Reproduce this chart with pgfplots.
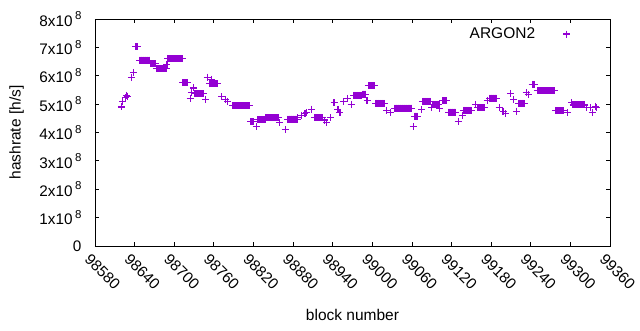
\documentclass[border=0pt]{standalone}
\usepackage{pgfplots}
\pgfplotsset{compat=1.18}
\usepackage{fontspec}
\setmainfont{Liberation Sans}
\definecolor{argon}{RGB}{148,0,211}
\newcommand{\sci}[1]{#1x10\kern2.5pt\raisebox{0.42em}{\fontsize{11.5}{11.5}\selectfont 8}}
\pgfplotstableread{
block value
98620 4.90e8
98622 5.08e8
98626 5.22e8
98628 5.32e8
98629 5.28e8
98635 5.95e8
98638 6.10e8
98641 7.02e8
98642 7.02e8
98643 7.02e8
98644 7.02e8
98645 7.02e8
98648 6.55e8
98649 6.55e8
98650 6.55e8
98651 6.55e8
98652 6.55e8
98653 6.55e8
98654 6.55e8
98655 6.55e8
98656 6.55e8
98657 6.55e8
98658 6.55e8
98659 6.55e8
98660 6.55e8
98661 6.55e8
98662 6.55e8
98663 6.55e8
98664 6.43e8
98665 6.43e8
98666 6.43e8
98667 6.43e8
98668 6.43e8
98669 6.43e8
98670 6.43e8
98671 6.43e8
98672 6.43e8
98673 6.25e8
98674 6.25e8
98675 6.25e8
98676 6.25e8
98677 6.25e8
98678 6.25e8
98679 6.25e8
98680 6.25e8
98681 6.25e8
98682 6.25e8
98683 6.25e8
98684 6.25e8
98685 6.25e8
98686 6.25e8
98687 6.25e8
98688 6.25e8
98689 6.40e8
98690 6.60e8
98691 6.60e8
98692 6.60e8
98693 6.60e8
98694 6.60e8
98695 6.60e8
98696 6.60e8
98697 6.60e8
98698 6.60e8
98699 6.60e8
98700 6.60e8
98701 6.60e8
98702 6.60e8
98703 6.60e8
98704 6.60e8
98705 6.60e8
98706 6.60e8
98707 6.60e8
98708 6.60e8
98709 6.60e8
98710 6.60e8
98711 6.60e8
98712 6.60e8
98713 5.75e8
98714 5.75e8
98715 5.75e8
98716 5.75e8
98717 5.75e8
98718 5.75e8
98719 5.75e8
98720 5.75e8
98724 5.19e8
98726 5.40e8
98729 5.57e8
98731 5.37e8
98732 5.37e8
98733 5.37e8
98734 5.37e8
98735 5.37e8
98736 5.37e8
98737 5.37e8
98738 5.37e8
98739 5.37e8
98740 5.37e8
98741 5.37e8
98742 5.37e8
98743 5.37e8
98744 5.37e8
98747 5.17e8
98750 5.95e8
98754 5.72e8
98755 5.72e8
98756 5.72e8
98757 5.88e8
98758 5.72e8
98759 5.72e8
98760 5.72e8
98761 5.72e8
98762 5.72e8
98763 5.72e8
98764 5.72e8
98765 5.72e8
98766 5.72e8
98772 5.26e8
98777 5.17e8
98781 5.10e8
98788 4.95e8
98789 4.95e8
98790 4.95e8
98791 4.95e8
98792 4.95e8
98793 4.95e8
98794 4.95e8
98795 4.95e8
98796 4.95e8
98797 4.95e8
98798 4.95e8
98799 4.95e8
98800 4.95e8
98801 4.95e8
98802 4.95e8
98803 4.95e8
98804 4.95e8
98805 4.95e8
98806 4.95e8
98807 4.95e8
98808 4.95e8
98809 4.95e8
98810 4.95e8
98811 4.95e8
98812 4.95e8
98813 4.95e8
98814 4.95e8
98816 4.38e8
98817 4.38e8
98818 4.38e8
98819 4.38e8
98820 4.38e8
98824 4.22e8
98826 4.45e8
98827 4.45e8
98828 4.45e8
98829 4.45e8
98830 4.45e8
98831 4.45e8
98832 4.45e8
98833 4.45e8
98834 4.45e8
98835 4.45e8
98836 4.45e8
98837 4.45e8
98838 4.45e8
98839 4.52e8
98840 4.52e8
98841 4.52e8
98842 4.52e8
98843 4.52e8
98844 4.52e8
98845 4.52e8
98846 4.52e8
98847 4.52e8
98848 4.52e8
98849 4.52e8
98850 4.52e8
98851 4.52e8
98852 4.52e8
98853 4.52e8
98854 4.52e8
98855 4.52e8
98856 4.52e8
98857 4.52e8
98858 4.52e8
98860 4.34e8
98868 4.10e8
98872 4.47e8
98873 4.47e8
98874 4.47e8
98875 4.47e8
98876 4.47e8
98877 4.47e8
98878 4.47e8
98879 4.47e8
98880 4.47e8
98881 4.47e8
98882 4.47e8
98883 4.47e8
98884 4.47e8
98885 4.47e8
98886 4.47e8
98887 4.52e8
98893 4.61e8
98898 4.67e8
98901 4.70e8
98908 4.82e8
98913 4.52e8
98914 4.52e8
98915 4.52e8
98916 4.52e8
98917 4.52e8
98918 4.52e8
98919 4.52e8
98920 4.52e8
98921 4.52e8
98922 4.52e8
98923 4.52e8
98924 4.52e8
98925 4.52e8
98927 4.44e8
98931 4.34e8
98936 4.52e8
98942 5.05e8
98948 4.81e8
98951 4.69e8
98957 5.08e8
98962 5.20e8
98968 4.99e8
98972 5.31e8
98973 5.31e8
98974 5.31e8
98975 5.31e8
98976 5.31e8
98977 5.31e8
98978 5.31e8
98979 5.31e8
98980 5.31e8
98981 5.31e8
98982 5.31e8
98983 5.31e8
98984 5.31e8
98985 5.35e8
98986 5.35e8
98987 5.35e8
98988 5.35e8
98989 5.35e8
98990 5.35e8
98992 5.13e8
98994 5.65e8
98995 5.65e8
98996 5.65e8
98997 5.65e8
98998 5.65e8
98999 5.65e8
99000 5.65e8
99001 5.65e8
99002 5.65e8
99003 5.65e8
99004 5.65e8
99005 5.03e8
99006 5.03e8
99007 5.03e8
99008 5.03e8
99009 5.03e8
99010 5.03e8
99011 5.03e8
99012 5.03e8
99013 5.03e8
99014 5.03e8
99015 5.03e8
99016 5.03e8
99017 5.03e8
99018 5.03e8
99022 4.79e8
99027 4.69e8
99034 4.86e8
99035 4.86e8
99036 4.86e8
99037 4.86e8
99038 4.86e8
99039 4.86e8
99040 4.86e8
99041 4.86e8
99042 4.86e8
99043 4.86e8
99044 4.86e8
99045 4.86e8
99046 4.86e8
99047 4.86e8
99048 4.86e8
99049 4.86e8
99050 4.86e8
99051 4.86e8
99052 4.86e8
99053 4.86e8
99054 4.86e8
99055 4.86e8
99056 4.86e8
99057 4.86e8
99058 4.86e8
99059 4.86e8
99060 4.86e8
99062 4.22e8
99064 4.58e8
99065 4.58e8
99066 4.58e8
99067 4.58e8
99068 4.58e8
99075 4.81e8
99076 5.10e8
99077 5.10e8
99078 5.10e8
99079 5.10e8
99080 5.10e8
99081 5.10e8
99082 5.10e8
99083 5.10e8
99084 5.10e8
99085 5.10e8
99086 5.10e8
99087 5.10e8
99088 5.10e8
99090 4.87e8
99091 4.99e8
99092 4.99e8
99093 4.99e8
99094 4.99e8
99095 4.99e8
99096 4.99e8
99097 4.99e8
99098 4.99e8
99099 4.99e8
99100 4.99e8
99101 4.99e8
99102 4.85e8
99106 5.12e8
99107 5.12e8
99108 5.12e8
99109 5.12e8
99110 5.12e8
99111 5.12e8
99112 5.12e8
99116 4.72e8
99117 4.72e8
99118 4.72e8
99119 4.72e8
99120 4.72e8
99121 4.72e8
99122 4.72e8
99123 4.72e8
99124 4.72e8
99125 4.72e8
99126 4.72e8
99130 4.40e8
99136 4.61e8
99138 4.78e8
99139 4.78e8
99140 4.78e8
99141 4.78e8
99142 4.78e8
99143 4.78e8
99144 4.78e8
99145 4.78e8
99146 4.78e8
99147 4.78e8
99148 4.78e8
99149 4.78e8
99150 4.78e8
99156 4.99e8
99160 4.88e8
99161 4.88e8
99162 4.88e8
99163 4.88e8
99164 4.88e8
99165 4.88e8
99166 4.88e8
99167 4.88e8
99168 4.88e8
99169 4.88e8
99170 4.88e8
99174 5.13e8
99178 5.21e8
99179 5.21e8
99180 5.21e8
99181 5.21e8
99182 5.21e8
99183 5.21e8
99184 5.21e8
99185 5.21e8
99186 5.21e8
99187 5.21e8
99188 5.21e8
99192 4.87e8
99198 4.75e8
99202 4.66e8
99209 5.38e8
99214 5.17e8
99219 4.75e8
99222 5.03e8
99223 5.03e8
99224 5.03e8
99225 5.03e8
99226 5.03e8
99227 5.03e8
99228 5.03e8
99229 5.03e8
99230 5.03e8
99233 5.40e8
99236 5.34e8
99242 5.70e8
99243 5.70e8
99244 5.70e8
99245 5.70e8
99246 5.70e8
99250 5.47e8
99251 5.47e8
99252 5.47e8
99253 5.47e8
99254 5.47e8
99255 5.47e8
99256 5.47e8
99257 5.47e8
99258 5.47e8
99259 5.47e8
99260 5.47e8
99261 5.47e8
99262 5.47e8
99263 5.47e8
99264 5.47e8
99265 5.47e8
99266 5.47e8
99267 5.47e8
99268 5.47e8
99269 5.47e8
99270 5.47e8
99271 5.47e8
99272 5.47e8
99273 5.47e8
99274 5.47e8
99275 5.47e8
99276 5.47e8
99278 4.76e8
99279 4.76e8
99280 4.76e8
99281 4.76e8
99282 4.76e8
99283 4.76e8
99284 4.76e8
99285 4.76e8
99286 4.76e8
99287 4.76e8
99288 4.76e8
99289 4.76e8
99290 4.76e8
99295 4.69e8
99302 5.05e8
99304 4.97e8
99305 4.97e8
99306 4.97e8
99307 4.97e8
99308 4.97e8
99309 4.97e8
99310 4.97e8
99311 4.97e8
99312 4.97e8
99313 4.97e8
99314 4.97e8
99315 4.97e8
99316 4.97e8
99317 4.97e8
99318 4.97e8
99319 4.97e8
99320 4.97e8
99321 4.97e8
99322 4.97e8
99325 4.87e8
99330 4.88e8
99333 4.69e8
99338 4.93e8
99340 4.88e8
}\argondata
\begin{document}
\begin{tikzpicture}
\begin{axis}[
  scale only axis, width=515pt, height=227pt,
  xmin=98580, xmax=99360, ymin=0, ymax=8e8,
  xtick={98580,98640,98700,98760,98820,98880,98940,99000,99060,99120,99180,99240,99300,99360},
  xticklabels={98580,98640,98700,98760,98820,98880,98940,99000,99060,99120,99180,99240,99300,99360},
  ytick={0,1e8,2e8,3e8,4e8,5e8,6e8,7e8,8e8},
  yticklabels={0,\sci1,\sci2,\sci3,\sci4,\sci5,\sci6,\sci7,\sci8},
  scaled x ticks=false, scaled y ticks=false,
  tick align=inside, major tick length=4pt,
  every tick/.style={black, line width=0.8pt},
  axis line style={black, line width=0.8pt},
  tick label style={font=\fontsize{15.3}{15.3}\selectfont},
  xticklabel style={rotate=-45, anchor=north west, xshift=-1pt, yshift=-4pt},
  yticklabel style={xshift=-10pt},
  xlabel={block number}, ylabel={hashrate [h/s]},
  label style={font=\fontsize{15.5}{15.5}\selectfont},
  xlabel style={at={(axis description cs:0.5,0)}, anchor=base, yshift=-74pt},
  ylabel style={at={(axis description cs:-0.152,0.5)}, anchor=center},
  legend style={draw=none, fill=none, at={(0.925,0.975)}, anchor=north east,
    font=\fontsize{15.5}{15.5}\selectfont, inner sep=1pt, column sep=26pt},
  legend plot pos=right, legend cell align=right,
]
\addplot[only marks, mark=+, mark size=3.5pt, color=argon, line width=1.1pt,
  mark options={draw=argon, fill=argon, solid}] table[x=block, y=value] {\argondata};
\addlegendentry{ARGON2}
\end{axis}
\pgfresetboundingbox
\path ([xshift=-95pt, yshift=-84pt]current axis.south west) rectangle ++(640pt,330pt);
\end{tikzpicture}
\end{document}
